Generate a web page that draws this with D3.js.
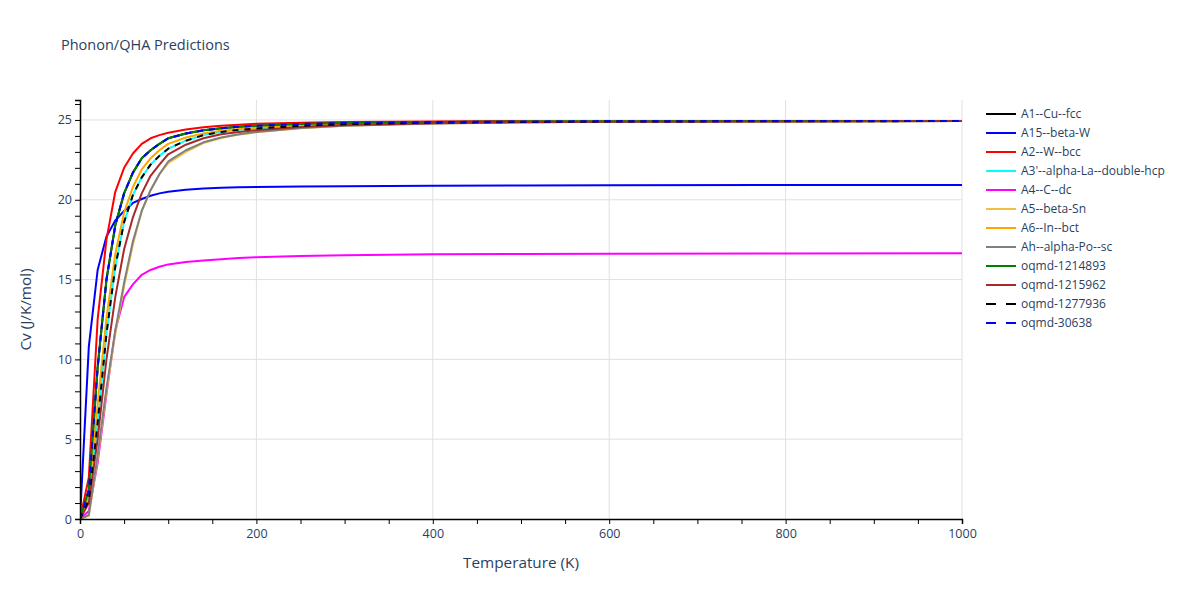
<!DOCTYPE html>
<html>
<head>
<meta charset="utf-8">
<script src="https://cdn.jsdelivr.net/npm/d3@7"></script>
<style>
  body { margin: 0; background: #fff; }
  svg { font-family: "Open Sans", "Noto Sans", sans-serif; }
</style>
</head>
<body>
<svg id="chart" width="1200" height="600"></svg>
<script>
// ---- Data ----
const temps = [0, 10, 20, 30, 40, 50, 60, 70, 80, 90, 100, 120, 140, 160, 180, 200, 250, 300, 400, 500, 600, 800, 1000];

const seriesNames = ["A1--Cu--fcc", "A15--beta-W", "A2--W--bcc", "A3'--alpha-La--double-hcp", "A4--C--dc",
  "A5--beta-Sn", "A6--In--bct", "Ah--alpha-Po--sc", "oqmd-1214893", "oqmd-1215962", "oqmd-1277936", "oqmd-30638"];

const cvA1      = [0, 1.8, 9.5, 15.0, 18.4, 20.4, 21.7, 22.6, 23.1, 23.5, 23.85, 24.15, 24.35, 24.48, 24.57, 24.64, 24.75, 24.81, 24.87, 24.9, 24.92, 24.93, 24.94];
const cvA15     = [0, 10.8, 15.6, 17.7, 18.7, 19.3, 19.8, 20.05, 20.25, 20.4, 20.5, 20.62, 20.7, 20.75, 20.78, 20.8, 20.83, 20.85, 20.88, 20.9, 20.91, 20.92, 20.93];
const cvA2      = [0, 2.6, 12.5, 17.5, 20.5, 22.0, 22.9, 23.5, 23.85, 24.05, 24.2, 24.4, 24.55, 24.64, 24.7, 24.76, 24.83, 24.87, 24.9, 24.92, 24.93, 24.94, 24.94];
const cvA3p     = [0, 1.2, 6.0, 11.6, 15.8, 18.6, 20.3, 21.4, 22.2, 22.75, 23.2, 23.7, 24.05, 24.25, 24.38, 24.47, 24.63, 24.73, 24.83, 24.87, 24.9, 24.92, 24.93];
const cvA4      = [0, 0.5, 3.5, 7.8, 11.8, 13.9, 14.7, 15.3, 15.6, 15.8, 15.95, 16.1, 16.2, 16.28, 16.35, 16.4, 16.48, 16.53, 16.58, 16.6, 16.62, 16.64, 16.65];
const cvA5      = [0, 0.2, 3.8, 8.0, 11.6, 14.6, 17.2, 19.3, 20.6, 21.6, 22.3, 23.0, 23.55, 23.87, 24.08, 24.23, 24.48, 24.63, 24.77, 24.84, 24.88, 24.91, 24.93];
const cvA6      = [0, 1.5, 7.2, 12.6, 16.6, 19.2, 20.8, 21.9, 22.6, 23.1, 23.5, 23.9, 24.15, 24.32, 24.43, 24.52, 24.67, 24.76, 24.84, 24.88, 24.9, 24.92, 24.93];
const cvAh      = [0, 0.25, 4.0, 8.2, 11.8, 14.8, 17.4, 19.3, 20.6, 21.6, 22.4, 23.1, 23.6, 23.9, 24.1, 24.25, 24.5, 24.64, 24.78, 24.85, 24.88, 24.91, 24.93];
const cv1214893 = [0, 1.8, 9.5, 15.0, 18.4, 20.4, 21.7, 22.6, 23.1, 23.5, 23.85, 24.15, 24.35, 24.48, 24.57, 24.64, 24.75, 24.81, 24.87, 24.9, 24.92, 24.93, 24.94];
const cv1215962 = [0, 1.0, 5.0, 10.0, 13.9, 16.9, 18.9, 20.4, 21.5, 22.2, 22.85, 23.45, 23.85, 24.1, 24.25, 24.36, 24.56, 24.68, 24.8, 24.86, 24.89, 24.91, 24.93];
const cv1277936 = [0, 1.2, 6.0, 11.6, 15.8, 18.6, 20.3, 21.4, 22.2, 22.75, 23.2, 23.7, 24.05, 24.25, 24.38, 24.47, 24.63, 24.73, 24.83, 24.87, 24.9, 24.92, 24.93];
const cv30638   = [0, 1.8, 9.5, 15.0, 18.4, 20.4, 21.7, 22.6, 23.1, 23.5, 23.85, 24.15, 24.35, 24.48, 24.57, 24.64, 24.75, 24.81, 24.87, 24.9, 24.92, 24.93, 24.94];

const seriesValues = [cvA1, cvA15, cvA2, cvA3p, cvA4, cvA5, cvA6, cvAh, cv1214893, cv1215962, cv1277936, cv30638];
const seriesColors = ["#000000", "#0000ff", "#ff0000", "#00ffff", "#ff00ff", "#eec240", "#ffa500", "#808080", "#008000", "#a52a2a", "#000000", "#0000ff"];
const seriesDash   = [null, null, null, null, null, null, null, null, null, null, "6,6", "6,6"];

const xTickValues = [0, 200, 400, 600, 800, 1000];
const yTickValues = [0, 5, 10, 15, 20, 25];

// ---- Layout ----
const svg = d3.select("#chart");
const m = { left: 80, right: 962, top: 100, bottom: 519 };
const textColor = "#2a3f5f";

const x = d3.scaleLinear().domain([0, 1000]).range([m.left, m.right]);
const y = d3.scaleLinear().domain([0, 26.25]).range([m.bottom, m.top]);

// Gridlines
const grid = svg.append("g");
grid.selectAll("line.gx").data(xTickValues.filter(d => d > 0)).enter().append("line")
  .attr("x1", d => x(d)).attr("x2", d => x(d)).attr("y1", m.top).attr("y2", m.bottom)
  .attr("stroke", "#e0e0e0").attr("stroke-width", 1);
grid.selectAll("line.gy").data(yTickValues.filter(d => d > 0)).enter().append("line")
  .attr("x1", m.left).attr("x2", m.right).attr("y1", d => y(d)).attr("y2", d => y(d))
  .attr("stroke", "#e0e0e0").attr("stroke-width", 1);

// Clip
svg.append("clipPath").attr("id", "clip").append("rect")
  .attr("x", m.left).attr("y", m.top).attr("width", m.right - m.left).attr("height", m.bottom - m.top);

// Lines
const line = d3.line().x((d, i) => x(temps[i])).y(d => y(d));
const plot = svg.append("g").attr("clip-path", "url(#clip)");
seriesValues.forEach((vals, i) => {
  plot.append("path")
    .attr("d", line(vals))
    .attr("fill", "none")
    .attr("stroke", seriesColors[i])
    .attr("stroke-width", 2)
    .attr("stroke-linejoin", "round")
    .attr("stroke-dasharray", seriesDash[i]);
});

// X axis
const xAxis = d3.axisBottom(x).tickValues(d3.range(0, 1001, 50)).tickSize(5)
  .tickFormat(d => xTickValues.includes(d) ? d : "");
const gx = svg.append("g").attr("transform", `translate(0,${m.bottom})`).call(xAxis);
gx.select(".domain").attr("stroke", "#000").attr("stroke-width", 1.5);
gx.selectAll(".tick line").attr("stroke", "#000");
gx.selectAll(".tick text").attr("fill", textColor).attr("font-size", 12.5).attr("dy", "0.9em")
  .attr("font-family", "Open Sans, sans-serif");

// Y axis
const yAxis = d3.axisLeft(y).tickValues(d3.range(0, 27, 1)).tickSize(5)
  .tickFormat(d => yTickValues.includes(d) ? d : "");
const gy = svg.append("g").attr("transform", `translate(${m.left},0)`).call(yAxis);
gy.select(".domain").attr("stroke", "#000").attr("stroke-width", 1.5);
gy.selectAll(".tick line").attr("stroke", "#000");
gy.selectAll(".tick text").attr("fill", textColor).attr("font-size", 12.5)
  .attr("font-family", "Open Sans, sans-serif");

// Titles
svg.append("text").attr("x", 61).attr("y", 50).attr("fill", textColor)
  .attr("font-size", 14.5).text("Phonon/QHA Predictions");
svg.append("text").attr("x", (m.left + m.right) / 2).attr("y", 568).attr("text-anchor", "middle")
  .attr("fill", textColor).attr("font-size", 15.3).text("Temperature (K)");
svg.append("text").attr("transform", `translate(31,${(m.top + m.bottom) / 2}) rotate(-90)`)
  .attr("text-anchor", "middle").attr("fill", textColor).attr("font-size", 15.3).text("Cv (J/K/mol)");

// Legend
const leg = svg.append("g").attr("transform", "translate(986,114)");
seriesNames.forEach((name, i) => {
  const g = leg.append("g").attr("transform", `translate(0,${i * 19})`);
  g.append("line").attr("x1", 0).attr("x2", 30).attr("y1", 0).attr("y2", 0)
    .attr("stroke", seriesColors[i]).attr("stroke-width", 2)
    .attr("stroke-dasharray", seriesDash[i] ? "10,10" : null);
  g.append("text").attr("x", 35).attr("y", 0).attr("dy", "0.35em")
    .attr("fill", textColor).attr("font-size", 12).text(name);
});
</script>
</body>
</html>
